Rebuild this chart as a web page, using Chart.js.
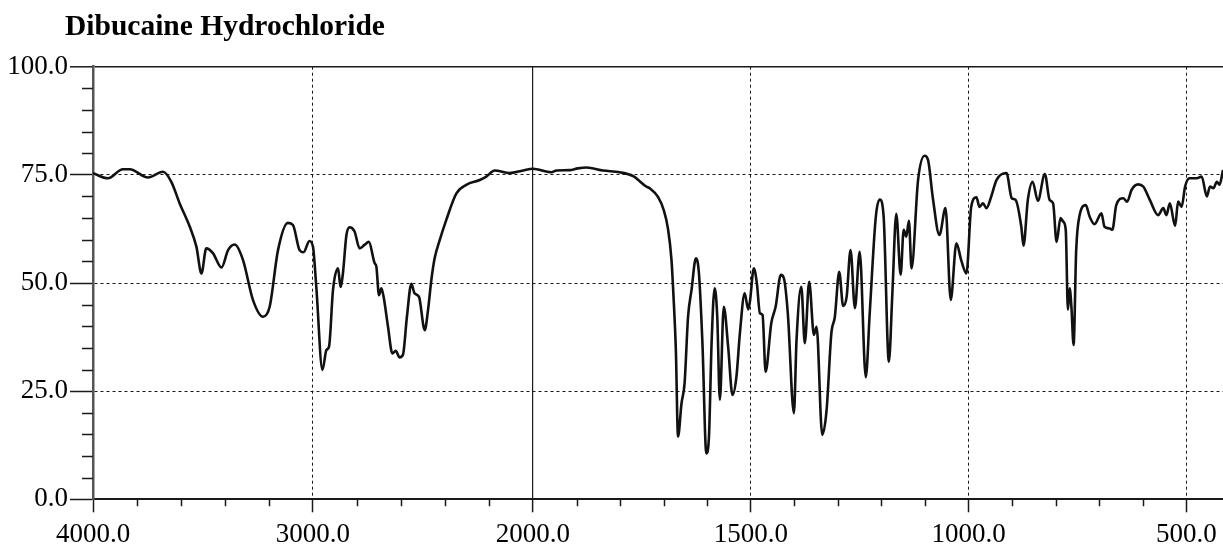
<!DOCTYPE html>
<html>
<head>
<meta charset="utf-8">
<script src="https://cdn.jsdelivr.net/npm/chart.js@4/dist/chart.umd.min.js"></script>
<style>
  html, body { margin: 0; padding: 0; background: #fff; }
  #wrap  { position: relative; width: 1223px; height: 548px; }
  #title { position: absolute; left: 65px; top: 11px; font: bold 29.5px/29px "Liberation Serif", "Times New Roman", serif; color: #000; white-space: nowrap; }
  canvas { position: absolute; left: 0; top: 0; }
</style>
</head>
<body>
<div id="wrap">
  <canvas id="chart" width="1223" height="548"></canvas>
  <div id="title">Dibucaine Hydrochloride</div>
</div>
<script>
// IR spectrum, wavenumber (cm-1) vs %T
const WAVENUMBERS = [
  4000, 3932, 3864, 3833, 3750, 3682, 3644, 3606, 3560, 3530, 3507, 3485, 3455, 3416, 3386, 3356,
  3318, 3273, 3227, 3197, 3159, 3114, 3091, 3061, 3043, 3016, 3000, 2985, 2957, 2939, 2927, 2909,
  2886, 2875, 2864, 2848, 2833, 2811, 2788, 2766, 2746, 2720, 2712, 2700, 2689, 2679, 2659, 2639,
  2624, 2606, 2591, 2573, 2553, 2538, 2518, 2492, 2477, 2462, 2447, 2424, 2394, 2348, 2303, 2242,
  2212, 2174, 2106, 2045, 2000, 1958, 1946, 1916, 1897, 1877, 1839, 1801, 1770, 1740, 1732, 1713,
  1700, 1690, 1682, 1677, 1672, 1667, 1659, 1652, 1644, 1636, 1626, 1619, 1611, 1602, 1596, 1590,
  1583, 1577, 1571, 1562, 1552, 1542, 1533, 1525, 1514, 1506, 1502, 1493, 1486, 1479, 1473, 1466,
  1453, 1443, 1431, 1424, 1415, 1401, 1395, 1384, 1376, 1366, 1355, 1349, 1336, 1326, 1315, 1307,
  1297, 1288, 1280, 1271, 1261, 1250, 1236, 1227, 1213, 1204, 1195, 1183, 1175, 1166, 1156, 1149,
  1143, 1137, 1131, 1116, 1101, 1093, 1082, 1067, 1053, 1041, 1028, 1017, 1005, 994, 982, 975,
  967, 959, 948, 936, 913, 901, 892, 879, 874, 864, 853, 841, 825, 814, 806, 798,
  789, 783, 777, 772, 768, 764, 759, 753, 745, 731, 722, 711, 695, 688, 676, 670,
  661, 645, 636, 626, 611, 599, 584, 565, 553, 546, 538, 526, 519, 511, 503, 493,
  476, 465, 453, 446, 438, 430, 424, 416
];
const TRANSMITTANCE = [
  75.4, 74.2, 76.3, 76.3, 74.4, 75.7, 73.4, 68.4, 63.0, 58.4, 52.2, 58.0, 56.9, 53.6, 57.6, 58.9,
  55.3, 46.1, 42.2, 44.5, 57.6, 63.9, 63.4, 57.6, 57.1, 59.7, 58.4, 49.1, 29.9, 34.5, 35.3, 48.4,
  53.4, 49.1, 52.2, 61.1, 62.9, 61.9, 58.0, 58.8, 59.5, 54.6, 53.8, 47.2, 48.8, 46.8, 39.9, 33.7,
  34.3, 32.8, 33.4, 42.2, 49.8, 47.6, 46.8, 39.1, 43.8, 50.7, 55.7, 59.9, 64.6, 70.7, 72.7, 73.8,
  74.6, 76.0, 75.4, 76.0, 76.4, 75.6, 76.0, 76.1, 76.5, 76.7, 76.0, 75.6, 74.7, 72.3, 71.9, 69.9,
  66.9, 62.5, 55.3, 46.1, 34.5, 14.5, 22.2, 26.8, 42.2, 48.4, 55.7, 52.2, 36.1, 10.6, 14.5, 36.1,
  48.8, 42.2, 23.0, 44.5, 35.3, 24.1, 28.3, 38.4, 47.6, 43.9, 45.7, 53.4, 49.9, 43.0, 42.6, 29.5,
  40.7, 44.5, 51.9, 51.1, 43.0, 19.9, 36.8, 49.1, 36.1, 50.3, 38.0, 39.9, 14.9, 20.6, 38.4, 42.2,
  52.6, 44.7, 46.8, 57.6, 44.2, 57.2, 28.2, 43.0, 65.3, 69.3, 65.3, 31.8, 47.6, 66.0, 51.9, 62.3,
  60.7, 64.4, 53.4, 73.8, 79.4, 78.4, 69.6, 61.1, 67.3, 46.1, 59.2, 55.3, 52.2, 67.6, 69.8, 67.6,
  68.4, 67.3, 70.0, 73.8, 75.4, 69.6, 69.2, 63.0, 58.6, 69.2, 73.4, 69.0, 75.2, 69.2, 68.4, 59.5,
  65.0, 64.2, 62.3, 43.8, 48.8, 44.5, 35.7, 57.6, 65.7, 68.0, 65.3, 63.6, 66.1, 63.0, 62.6, 62.3,
  68.0, 69.6, 68.8, 71.5, 72.8, 72.3, 69.2, 65.7, 67.3, 65.7, 68.4, 63.2, 68.8, 67.6, 72.3, 74.2,
  74.2, 74.6, 70.0, 72.3, 71.9, 73.4, 72.7, 76.1
];

const X_TICKS = [4000, 3000, 2000, 1500, 1000, 500];
const X_MINOR = [3800, 3600, 3400, 3200, 2800, 2600, 2400, 2200,
                 1900, 1800, 1700, 1600, 1400, 1300, 1200, 1100, 900, 800, 700, 600];
const Y_TICKS = [0, 25, 50, 75, 100];
const Y_MINOR = [5, 10, 15, 20, 30, 35, 40, 45, 55, 60, 65, 70, 80, 85, 90, 95];
const X_RIGHT = 416;   // wavenumber at the cut-off right edge

// the scan changes scale at 2000 cm-1 (twice as stretched below)
const toU = w => w >= 2000 ? (4000 - w) * 0.505 : 1010 + (2000 - w);

const DOTS  = [3, 3];
const INK   = '#1a1a1a';
const FONT  = { family: '"Liberation Serif", "Times New Roman", serif', size: 27 };

const minorTicks = {
  id: 'minorTicks',
  afterDraw(chart) {
    const { ctx, scales: { x, y } } = chart;
    ctx.save();
    ctx.strokeStyle = INK;
    ctx.lineWidth   = 1.5;
    ctx.beginPath();
    X_MINOR.forEach(w => {
      const px = Math.round(x.getPixelForValue(toU(w))) + 0.5;
      ctx.moveTo(px, y.bottom);
      ctx.lineTo(px, y.bottom + 7);
    });
    Y_MINOR.forEach(v => {
      const py = Math.round(y.getPixelForValue(v)) + 0.5;
      ctx.moveTo(x.left - 11, py);
      ctx.lineTo(x.left, py);
    });
    ctx.stroke();
    ctx.restore();
  }
};

const points = WAVENUMBERS.map((w, i) => ({ x: toU(w), y: TRANSMITTANCE[i] }));

new Chart(document.getElementById('chart'), {
  type: 'line',
  data: {
    datasets: [{
      data: points,
      borderColor: '#111',
      borderWidth: 2.6,
      pointRadius: 0,
      cubicInterpolationMode: 'monotone',
      fill: false,
    }]
  },
  options: {
    responsive: false,
    animation: false,
    layout: { padding: { top: 66.7, right: 0, bottom: 0, left: 0 } },
    plugins: { legend: { display: false }, tooltip: { enabled: false }, title: { display: false } },
    scales: {
      x: {
        type: 'linear',
        min: 0,
        max: toU(X_RIGHT),
        afterBuildTicks: s => { s.ticks = X_TICKS.map(w => ({ value: toU(w) })); },
        afterFit: s => { s.height = 48.7; },
        ticks: {
          autoSkip: false, maxRotation: 0, padding: 6,
          color: '#000', font: FONT,
          callback: (v, i) => X_TICKS[i].toFixed(1),
        },
        grid: {
          color: c => (c.tick && c.tick.value === 0) ? 'rgba(0,0,0,0)' : INK,
          lineWidth: c => (c.tick && c.tick.value === toU(2000)) ? 1.2 : 1,
          tickColor: INK, tickLength: 13, tickWidth: 1.5, tickBorderDash: [],
        },
        border: {
          display: true, color: INK, width: 2,
          dash: c => (c.tick && c.tick.value === toU(2000)) ? [] : DOTS,
        },
      },
      y: {
        min: 0,
        max: 100,
        afterBuildTicks: s => { s.ticks = Y_TICKS.map(v => ({ value: v })); },
        afterFit: s => { s.width = 93; },
        ticks: {
          padding: 2, color: '#000', font: FONT,
          callback: v => Number(v).toFixed(1),
        },
        grid: {
          color: c => (c.tick && c.tick.value === 0) ? 'rgba(0,0,0,0)' : INK,
          lineWidth: c => (c.tick && c.tick.value === 100) ? 1.6 : 1,
          tickColor: INK, tickLength: 23, tickWidth: 1.5, tickBorderDash: [],
        },
        border: {
          display: true, color: '#555', width: 2.5,
          dash: c => (c.tick && c.tick.value === 100) ? [] : DOTS,
        },
      },
    },
  },
  plugins: [minorTicks],
});
</script>
</body>
</html>
